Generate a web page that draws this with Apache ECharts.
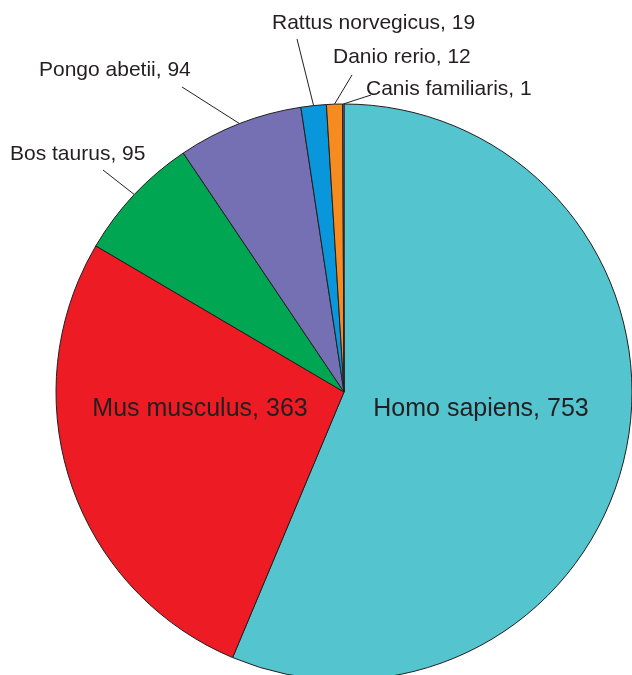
<!DOCTYPE html>
<html>
<head>
<meta charset="utf-8">
<script src="https://cdn.jsdelivr.net/npm/echarts@6/dist/echarts.min.js"></script>
<style>
html,body{margin:0;padding:0;background:#fff;}
#chart{width:632px;height:675px;}
</style>
</head>
<body>
<div id="chart"></div>
<script>
// ---- data ----
const species = ['Homo sapiens', 'Mus musculus', 'Bos taurus', 'Pongo abetii', 'Rattus norvegicus', 'Danio rerio', 'Canis familiaris'];
const counts = [753, 363, 95, 94, 19, 12, 1];
const sliceColors = ['#54C4CF', '#ED1C24', '#00A651', '#7570B3', '#0A96DA', '#F68B1F', '#8C7BA8'];

// ---- label layout (positions only) ----
const insideLabels = ['Homo sapiens', 'Mus musculus'];
const labelPlacement = {
  'Homo sapiens':      { x: 481, y: 409, align: 'center' },
  'Mus musculus':      { x: 200, y: 409, align: 'center' },
  'Bos taurus':        { x: 10,  y: 154, align: 'left', end: [103, 170] },
  'Pongo abetii':      { x: 39,  y: 70,  align: 'left', end: [182, 87] },
  'Rattus norvegicus': { x: 272, y: 23,  align: 'left', end: [297, 39] },
  'Danio rerio':       { x: 333, y: 57,  align: 'left', end: [352, 75] },
  'Canis familiaris':  { x: 366, y: 89,  align: 'left', end: [371, 95] }
};

const textColor = '#231F20';
const font = '"Liberation Sans", Arial, sans-serif';
const cx = 344, cy = 392, R = 288;

const total = counts.reduce((a, b) => a + b, 0);

const data = species.map((name, i) => {
  const inside = insideLabels.indexOf(name) >= 0;
  return {
    name: name,
    value: counts[i],
    itemStyle: { color: sliceColors[i] },
    label: inside
      ? { position: 'inside', fontSize: 25 }
      : { position: 'outside', fontSize: 21 },
    labelLine: { show: !inside }
  };
});

const chart = echarts.init(document.getElementById('chart'), null, { renderer: 'canvas' });
chart.setOption({
  backgroundColor: '#ffffff',
  animation: false,
  series: [{
    type: 'pie',
    center: [cx, cy],
    radius: [0, R],
    startAngle: 90,
    clockwise: true,
    avoidLabelOverlap: false,
    minShowLabelAngle: 0,
    data: data,
    itemStyle: { borderColor: '#231F20', borderWidth: 1 },
    emphasis: { disabled: true },
    label: {
      show: true,
      formatter: '{b}, {c}',
      color: textColor,
      fontFamily: font
    },
    labelLine: {
      show: true,
      length: 20,
      length2: 0,
      smooth: false,
      lineStyle: { color: textColor, width: 1 }
    },
    labelLayout: function (params) {
      const name = species[params.dataIndex];
      const p = labelPlacement[name];
      if (!p) return {};
      const out = { x: p.x, y: p.y, align: p.align, verticalAlign: 'middle' };
      if (p.end) {
        let start;
        if (params.labelLinePoints && params.labelLinePoints[0]) {
          start = params.labelLinePoints[0];
        } else {
          // fallback: mid-angle point on the outer arc
          let acc = 0;
          for (let i = 0; i < params.dataIndex; i++) acc += counts[i];
          const mid = (acc + counts[params.dataIndex] / 2) / total * 2 * Math.PI;
          start = [cx + R * Math.sin(mid), cy - R * Math.cos(mid)];
        }
        out.labelLinePoints = [start, p.end];
      }
      return out;
    }
  }]
});
</script>
</body>
</html>
